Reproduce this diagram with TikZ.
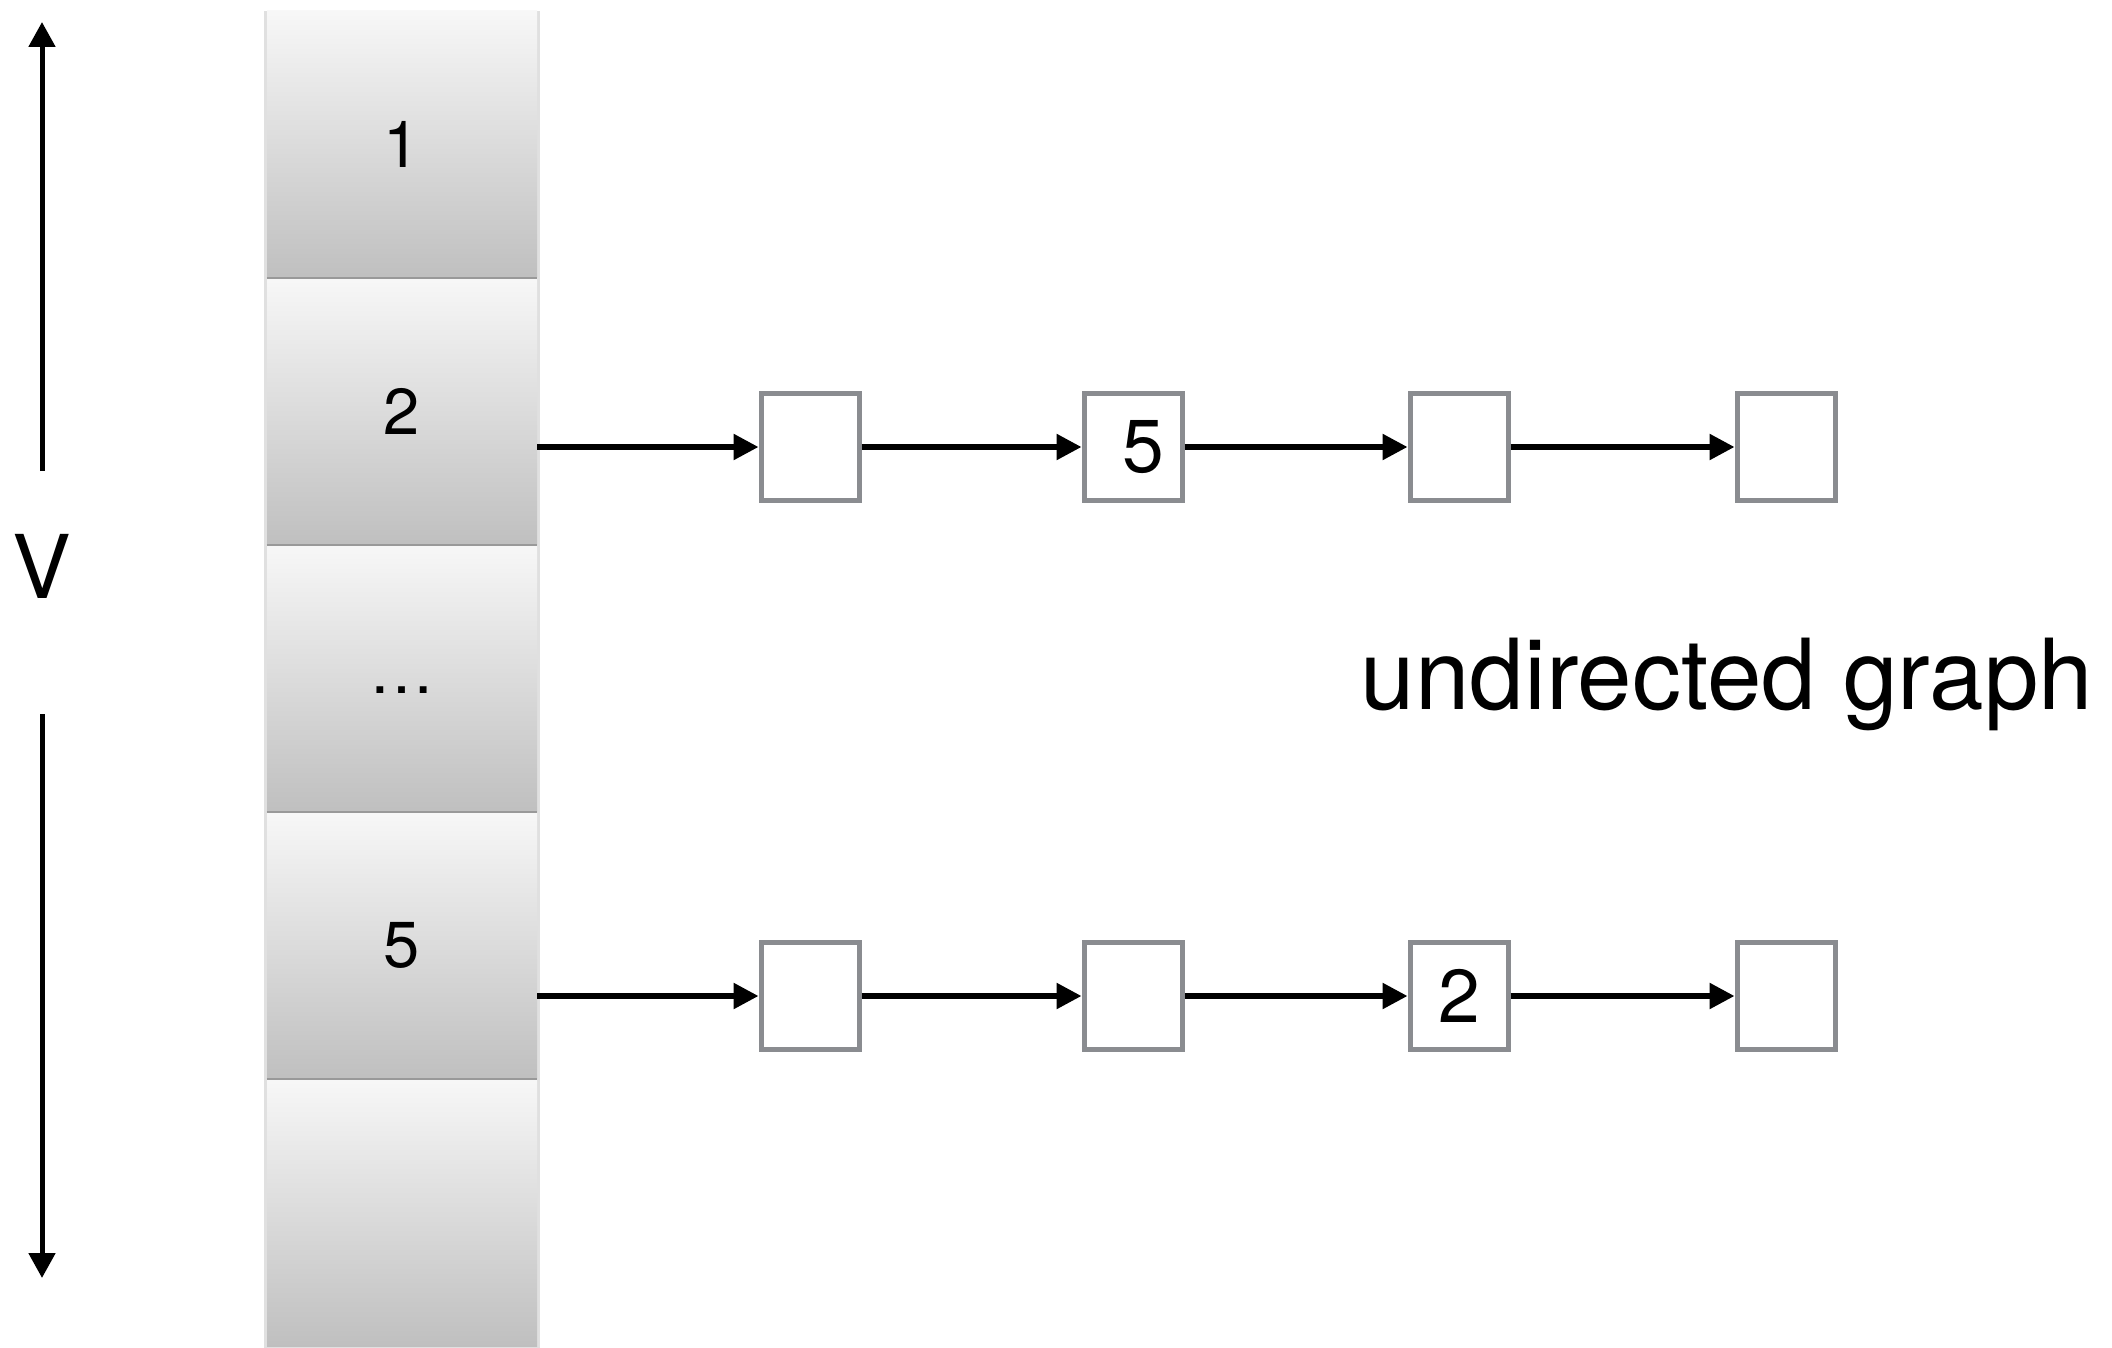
\documentclass[tikz,border=0pt]{standalone}
\usepackage{fontspec}
\setmainfont{TeX Gyre Heros}
\usetikzlibrary{arrows.meta}
\begin{document}
\begin{tikzpicture}[x=1pt,y=-1pt,
  cell/.style={minimum width=270pt,minimum height=267pt,inner sep=0pt,
    top color=white!97!black,bottom color=white!75!black,
    font=\fontsize{65}{70}\selectfont},
  lbox/.style={draw=boxgray,line width=5pt,fill=white,minimum width=98pt,
    minimum height=107pt,inner sep=0pt,font=\fontsize{75}{80}\selectfont},
  link/.style={line width=5.5pt,-{Triangle[length=25pt,width=25pt]}},
  varrow/.style={line width=5pt,-{Triangle[length=25pt,width=26pt]}}]
\definecolor{boxgray}{HTML}{8A8C90}
\useasboundingbox (0,0) rectangle (2112,1348);
% column shadow
\fill[black!12] (264,11) rectangle (540,1348);
% cells
\node[cell] (c1) at (402,144.5) {1};
\node[cell] (c2) at (402,411.5) {2};
\node[cell] (c3) at (402,678.5) {\raisebox{-30pt}{…}};
\node[cell] (c4) at (402,945.5) {5};
\node[cell] (c5) at (402,1212.5) {};
\foreach \n in {c1,c2,c3,c4}{
  \draw[black!40,line width=2pt] (\n.south west) -- (\n.south east);}
% size vertical arrow
\node[font=\fontsize{88}{90}\selectfont] (V) at (42,566) {V};
\coordinate (vt) at (42,22);
\coordinate (vts) at (42,471);
\coordinate (vbs) at (42,714);
\coordinate (vb) at (42,1278);
\draw[varrow] (vts) -- (vt);
\draw[varrow] (vbs) -- (vb);
% row 1
\node[lbox] (a1) at (810,447) {};
\node[lbox] (a2) at (1133,447) {\hspace*{20pt}5};
\node[lbox] (a3) at (1459,447) {};
\node[lbox] (a4) at (1786,447) {};
% row 2
\node[lbox] (b1) at (810,996) {};
\node[lbox] (b2) at (1133,996) {};
\node[lbox] (b3) at (1459,996) {2};
\node[lbox] (b4) at (1786,996) {};
% links
\draw[link] (c2.east |- a1.west) -- (a1.west);
\draw[link] (a1.east) -- (a2.west);
\draw[link] (a2.east) -- (a3.west);
\draw[link] (a3.east) -- (a4.west);
\draw[link] (c4.east |- b1.west) -- (b1.west);
\draw[link] (b1.east) -- (b2.west);
\draw[link] (b2.east) -- (b3.west);
\draw[link] (b3.east) -- (b4.west);
% caption
\node[font=\fontsize{98}{100}\selectfont,inner sep=0pt] (cap) at (1727,684) {undirected graph};
\end{tikzpicture}
\end{document}
